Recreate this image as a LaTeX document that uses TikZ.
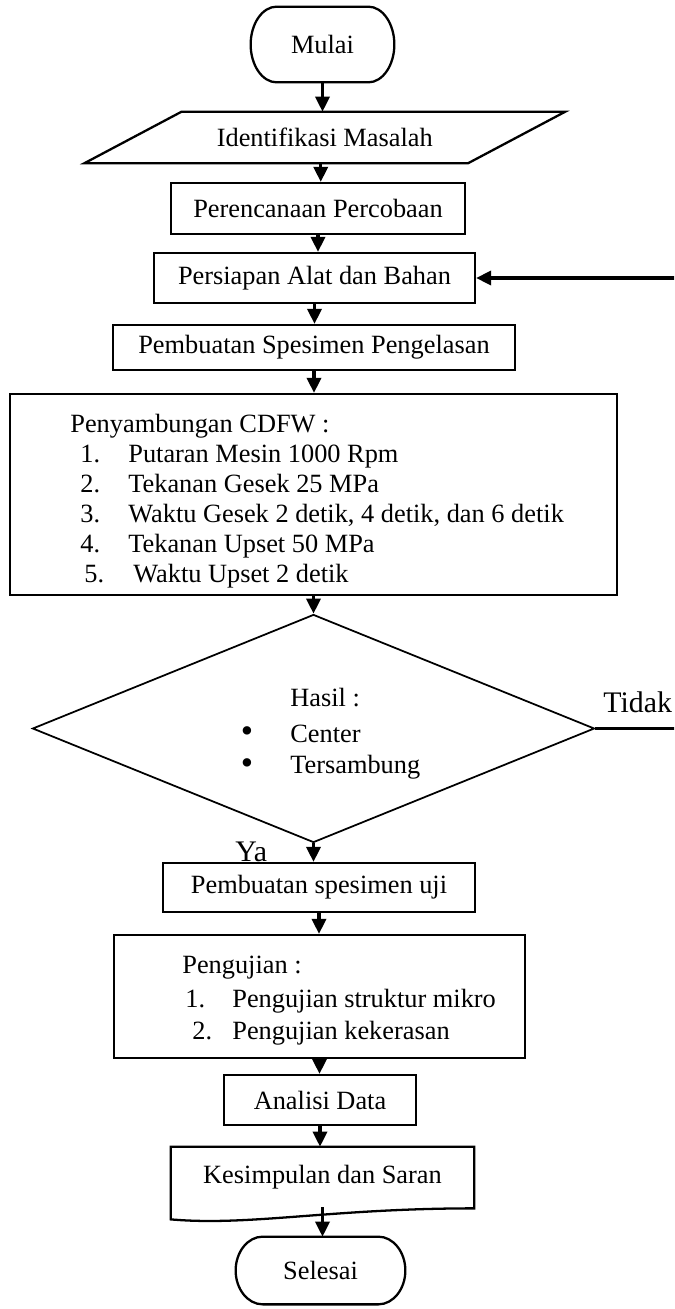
\documentclass[tikz,border=0pt]{standalone}
\usepackage{fontspec}
\setmainfont{Liberation Serif}
\usetikzlibrary{arrows.meta,shapes.geometric,calc}
\newcommand\pxu{0.02cm}
% terminal outline: #1 node, #2 side radius, #3 horizontal control offset, #4 vertical control offset
\newcommand\drawterm[4]{%
  \draw[shapeline] ($(#1.north west)+(#2,0)$) -- ($(#1.north east)+(-#2,0)$)
    .. controls ($(#1.north east)+(-#3,0)$) and ($(#1.east)+(0,-#4)$) .. (#1.east)
    .. controls ($(#1.east)+(0,#4)$) and ($(#1.south east)+(-#3,0)$) .. ($(#1.south east)+(-#2,0)$)
    -- ($(#1.south west)+(#2,0)$)
    .. controls ($(#1.south west)+(#3,0)$) and ($(#1.west)+(0,#4)$) .. (#1.west)
    .. controls ($(#1.west)+(0,-#4)$) and ($(#1.north west)+(#3,0)$) .. ($(#1.north west)+(#2,0)$) -- cycle;}
\begin{document}
\begin{tikzpicture}[x=0.02cm,y=-0.02cm,
  every node/.style={font=\fontsize{15}{18}\selectfont},
  box/.style={draw, line width=1.3pt, rectangle, inner sep=0pt},
  ghost/.style={rectangle, inner sep=0pt},
  shapeline/.style={line width=1.3pt, line join=miter},
  flow/.style={line width=1.8pt, -{Triangle[length=8.5pt,width=8pt]}},
  txt/.style={anchor=base west, inner sep=0pt},
  bul/.style={inner sep=0pt, font=\fontsize{20}{20}\selectfont},
  lbl/.style={font=\fontsize{17}{20}\selectfont, anchor=base west, inner sep=0pt}]
\useasboundingbox (0,0) rectangle (674,1309);
\fill[white] (0,0) rectangle (674,1309);
\clip (0,0) rectangle (674,1309);

% start
\node[ghost, minimum width=143*\pxu, minimum height=75*\pxu] (mulai) at (322.5,44.5) {Mulai};
\drawterm{mulai}{26}{11.65}{20.7}

% identification (parallelogram)
\node[ghost, minimum width=383*\pxu, minimum height=51*\pxu] (ident) at (324.75,137.5) {Identifikasi Masalah};
\draw[shapeline] ($(ident.north west)+(48.75,0)$) -- ($(ident.north east)+(48.75,0)$)
  -- ($(ident.south east)+(-48.75,0)$) -- ($(ident.south west)+(-48.75,0)$) -- cycle;

\node[box, minimum width=294*\pxu, minimum height=51*\pxu] (perenc) at (318,208.5) {Perencanaan Percobaan};
\node[box, minimum width=321*\pxu, minimum height=50*\pxu] (persiapan) at (314.5,278) {Persiapan Alat dan Bahan};
\node[box, minimum width=402*\pxu, minimum height=45*\pxu] (spesimen) at (314,347.5) {Pembuatan Spesimen Pengelasan};

% CDFW box
\node[box, minimum width=607*\pxu, minimum height=201*\pxu] (cdfw) at (313.5,494.5) {};
\node[txt] (c0) at (70,432) {Penyambungan CDFW :};
\node[txt] (n1) at (80,462) {1.};
\node[txt] (t1) at (128,462) {Putaran Mesin 1000 Rpm};
\node[txt] (n2) at (80,492) {2.};
\node[txt] (t2) at (128,492) {Tekanan Gesek 25 MPa};
\node[txt] (n3) at (80,522) {3.};
\node[txt] (t3) at (128,522) {Waktu Gesek 2 detik, 4 detik, dan 6 detik};
\node[txt] (n4) at (80,552) {4.};
\node[txt] (t4) at (128,552) {Tekanan Upset 50 MPa};
\node[txt] (n5) at (84,582) {5.};
\node[txt] (t5) at (133,582) {Waktu Upset 2 detik};

% decision
\node[diamond, draw, line width=1pt, minimum width=562*\pxu, minimum height=228*\pxu, inner sep=0pt] (hasil) at (313.5,728.5) {};
\node[txt] (h0) at (290,706) {Hasil :};
\node[bul] (b1) at (247,735) {\textbullet};
\node[txt] (h1) at (290,742) {Center};
\node[bul] (b2) at (247,767) {\textbullet};
\node[txt] (h2) at (290,773) {Tersambung};

\node[lbl] (tidak) at (603,712) {Tidak};
\node[lbl] (ya) at (235,861) {Ya};
\coordinate (loop) at (720,0);

\node[box, minimum width=312*\pxu, minimum height=49*\pxu] (uji) at (319,887.5) {Pembuatan spesimen uji};

% testing box
\node[box, minimum width=411*\pxu, minimum height=123*\pxu] (uji2) at (319.5,996.5) {};
\node[txt] (p0) at (182,973) {Pengujian :};
\node[txt] (pn1) at (185,1007) {1.};
\node[txt] (pt1) at (232,1007) {Pengujian struktur mikro};
\node[txt] (pn2) at (192,1039) {2.};
\node[txt] (pt2) at (232,1039) {Pengujian kekerasan};

\node[box, minimum width=192*\pxu, minimum height=50*\pxu] (analisi) at (320,1100) {Analisi Data};

% document shape
\node[ghost, minimum width=303*\pxu, minimum height=60*\pxu] (kesim) at (322.5,1177) {Kesimpulan dan Saran};
\draw[shapeline] ($(kesim.south east)+(0,1)$) -- (kesim.north east) -- (kesim.north west)
  -- ($(kesim.south west)+(0,12)$)
  .. controls ($(kesim.south west)+(79,19)$) and ($(kesim.south east)+(-144,1)$) .. ($(kesim.south east)+(0,1)$) -- cycle;

% end
\node[ghost, minimum width=169*\pxu, minimum height=67*\pxu] (selesai) at (320.5,1270.5) {Selesai};
\drawterm{selesai}{27}{12.1}{18.5}

% connectors
\draw[flow] (mulai.south) -- (mulai.south |- ident.north);
\draw[flow] (ident.south) ++(-4,0) coordinate (ia) -- (ia |- perenc.north);
\draw[flow] (perenc.south) -- (perenc.south |- persiapan.north);
\draw[flow] (persiapan.south) -- (persiapan.south |- spesimen.north);
\draw[flow] (spesimen.south) -- (spesimen.south |- cdfw.north);
\draw[flow] (cdfw.south) -- (cdfw.south |- hasil.north);
\draw[flow] (hasil.south) -- (hasil.south |- uji.north);
\draw[flow] (uji.south) -- (uji.south |- uji2.north);
\draw[flow] (uji2.south) -- (uji2.south |- analisi.north);
\draw[flow] (analisi.south) -- (analisi.south |- kesim.north);
\draw[flow] (kesim.south) -- (kesim.south |- selesai.north);
\draw[flow] (hasil.east) -- (hasil.east -| loop) |- (persiapan.east);
\end{tikzpicture}
\end{document}
